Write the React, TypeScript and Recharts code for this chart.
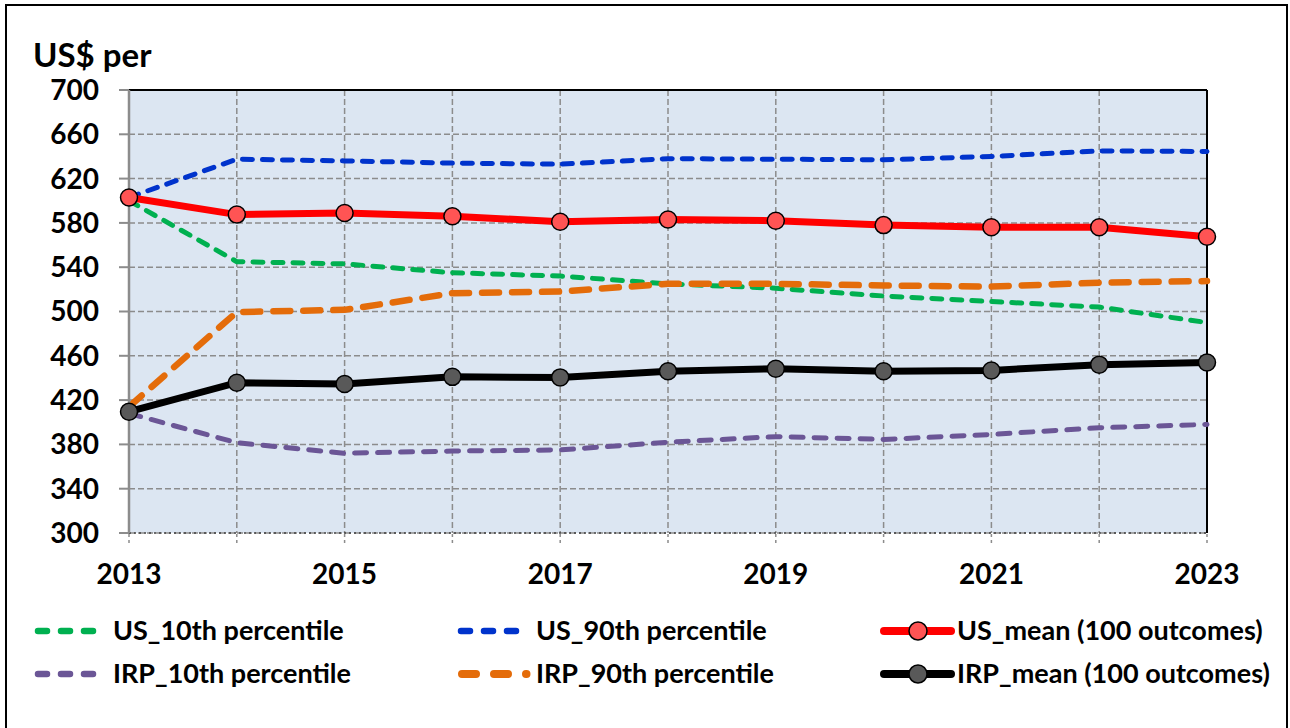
import { LineChart, Line, XAxis, YAxis, CartesianGrid, ReferenceLine } from 'recharts'

const years = [2013, 2014, 2015, 2016, 2017, 2018, 2019, 2020, 2021, 2022, 2023]
const yTicks = [300, 340, 380, 420, 460, 500, 540, 580, 620, 660, 700]

const us10 = [600, 545, 543, 535, 532, 525, 521, 514, 509, 504, 490]
const us90 = [603, 637.5, 636, 634, 633, 638, 637.5, 637, 640, 645, 644.5]
const usMean = [603, 587.5, 589, 586, 581, 583, 582, 578, 576, 576, 567.5]
const irp10 = [408, 381.5, 372, 374, 375, 382, 387, 384.5, 389, 395, 398]
const irp90 = [414, 499.5, 501.5, 516.5, 518, 525, 525, 523.5, 522.5, 526, 527.5]
const irpMean = [409.5, 435.7, 434.5, 441, 440.5, 446, 448.3, 446, 446.8, 452, 454]

const data = years.map((year, i) => ({
  year,
  us10: us10[i],
  us90: us90[i],
  usMean: usMean[i],
  irp10: irp10[i],
  irp90: irp90[i],
  irpMean: irpMean[i],
}))

const FONT = 'Lato, "Open Sans", sans-serif'

const series = [
  { key: 'us10', name: 'US_10th percentile', color: '#00b050', width: 5, dash: '10 10' },
  { key: 'us90', name: 'US_90th percentile', color: '#0033cc', width: 5, dash: '10 10' },
  { key: 'usMean', name: 'US_mean (100 outcomes)', color: '#ff0000', width: 7, fill: '#ff5454' },
  { key: 'irp10', name: 'IRP_10th percentile', color: '#6b5696', width: 5, dash: '12 11' },
  { key: 'irp90', name: 'IRP_90th percentile', color: '#e46c0a', width: 6.5, dash: '17 13' },
  { key: 'irpMean', name: 'IRP_mean (100 outcomes)', color: '#000000', width: 7, fill: '#595959' },
]

const legendCols = [35, 458, 880]
const legendRows = [631, 674]

function LegendIcon({ s, x, y }: { s: (typeof series)[number]; x: number; y: number }) {
  if (s.fill) {
    return (
      <g>
        <line x1={x + 4} y1={y} x2={x + 71} y2={y} stroke={s.color} strokeWidth={8} strokeLinecap="round" />
        <circle cx={x + 38} cy={y} r={9} fill={s.fill} stroke="#000" strokeWidth={1.5} />
      </g>
    )
  }
  if (s.key === 'irp90') {
    return (
      <line x1={x + 4} y1={y} x2={x + 68.5} y2={y} stroke={s.color} strokeWidth={8}
        strokeDasharray="14 18" strokeLinecap="round" />
    )
  }
  return (
    <line x1={x + 3} y1={y} x2={x + 61} y2={y} stroke={s.color} strokeWidth={6.5}
      strokeDasharray="9 14" strokeLinecap="round" />
  )
}

export default function App() {
  return (
    <div style={{ position: 'relative', width: 1290, height: 728, background: '#fff', fontFamily: FONT }}>
      <style>{`body { margin: 0; }`}</style>
      <div
        style={{
          position: 'absolute', left: 5, top: 4, width: 1283, height: 740,
          border: '2px solid #000', boxSizing: 'border-box',
        }}
      />
      <LineChart
        width={1290}
        height={728}
        data={data}
        margin={{ top: 90, right: 83, bottom: 135, left: 29 }}
        style={{ position: 'absolute', left: 0, top: 0 }}
      >
        <CartesianGrid fill="#dce6f2" stroke="#8c8c8c" strokeDasharray="6 3" strokeWidth={1.5} />
        <XAxis
          dataKey="year"
          type="number"
          domain={[2013, 2023]}
          ticks={years}
          height={60}
          tickFormatter={(v: number) => (v % 2 === 1 ? String(v) : '')}
          tick={{ fontSize: 28, fontWeight: 700, fill: '#000', fontFamily: FONT }}
          tickSize={10}
          tickMargin={21}
          tickLine={{ stroke: '#8c8c8c', strokeDasharray: '3 3', strokeWidth: 1.5 }}
          axisLine={{ stroke: '#404040', strokeDasharray: '2 3', strokeWidth: 1.5 }}
          interval={0}
        />
        <YAxis
          domain={[300, 700]}
          ticks={yTicks}
          width={100}
          tick={{ fontSize: 28, fontWeight: 700, fill: '#000', fontFamily: FONT }}
          tickSize={10}
          tickMargin={20}
          tickLine={{ stroke: '#8c8c8c', strokeWidth: 2 }}
          axisLine={{ stroke: '#8c8c8c', strokeWidth: 2.5 }}
          interval={0}
        />
        <ReferenceLine y={700} stroke="#000" strokeWidth={2} />
        <ReferenceLine x={2023} stroke="#000" strokeWidth={2} />
        {series.filter(s => !s.fill).map(s => (
          <Line
            key={s.key}
            dataKey={s.key}
            type="linear"
            stroke={s.color}
            strokeWidth={s.width}
            strokeDasharray={s.dash}
            strokeLinecap="round"
            dot={false}
            activeDot={false}
            isAnimationActive={false}
          />
        ))}
        {series.filter(s => s.fill).map(s => (
          <Line
            key={s.key}
            dataKey={s.key}
            type="linear"
            stroke={s.color}
            strokeWidth={s.width}
            dot={{ r: 8.5, fill: s.fill, stroke: '#000', strokeWidth: 1.5 }}
            activeDot={false}
            isAnimationActive={false}
          />
        ))}
      </LineChart>
      <svg width={1290} height={728} style={{ position: 'absolute', left: 0, top: 0, pointerEvents: 'none' }}>
        <text x={33} y={67} fontSize={33} fontWeight={700} fontFamily={FONT} fill="#000">US$ per</text>
        {series.map((s, i) => {
          const x = legendCols[i % 3]
          const y = legendRows[Math.floor(i / 3)]
          const textX = s.fill ? x + 77 : x + 78
          return (
            <g key={s.key}>
              <LegendIcon s={s} x={x} y={y} />
              <text x={textX} y={y + 9} fontSize={27} fontWeight={700} fontFamily={FONT} fill="#000">
                {s.name}
              </text>
            </g>
          )
        })}
      </svg>
    </div>
  )
}
